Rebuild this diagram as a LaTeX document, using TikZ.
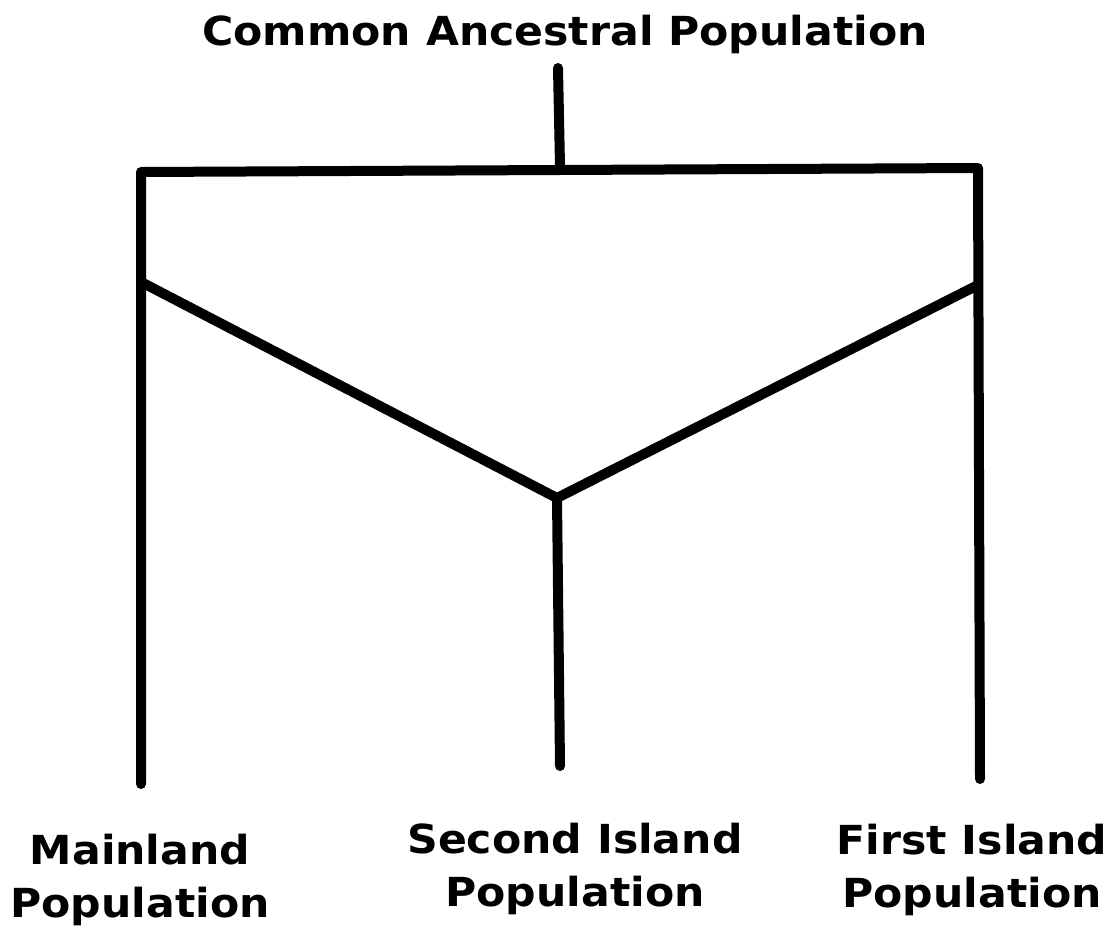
\documentclass[tikz,border=0pt]{standalone}
\usepackage{fontspec}
\setmainfont{DejaVu Sans}[BoldFeatures={FakeStretch=1.065}]
\begin{document}
\begin{tikzpicture}[x=1pt,y=-1pt,
  branch/.style={line width=10pt,line cap=round,line join=round,black},
  lbl/.style={font=\bfseries\fontsize{40}{53}\selectfont,align=center,inner sep=0pt}]
\useasboundingbox (0,0) rectangle (1119,926);
\node[lbl] (anc) at (565,34) {Common Ancestral Population};
\node[lbl] (main) at (140,880) {Mainland\\Population};
\node[lbl] (second) at (575,869) {Second Island\\Population};
\node[lbl] (first) at (972,870) {First Island\\Population};
\coordinate (top) at (558,68);
\coordinate (joint) at (560,166);
\coordinate (tl) at (141,172);
\coordinate (tr) at (978,168);
\coordinate (lend) at (141,783);
\coordinate (rend) at (980,778);
\coordinate (vl) at (143,283);
\coordinate (vr) at (976,286);
\coordinate (vmid) at (557,498);
\coordinate (mend) at (560,766);
\draw[branch] (top) -- (joint);
\draw[branch,line cap=butt] (lend) -- (tl) -- (tr) -- (rend);
\draw[branch] (lend) -- ([yshift=-1pt]lend);
\draw[branch] (rend) -- ([yshift=-1pt]rend);
\draw[branch,line cap=butt] (vl) -- (vmid) -- (vr);
\draw[branch] (vmid) -- (mend);
\end{tikzpicture}
\end{document}
